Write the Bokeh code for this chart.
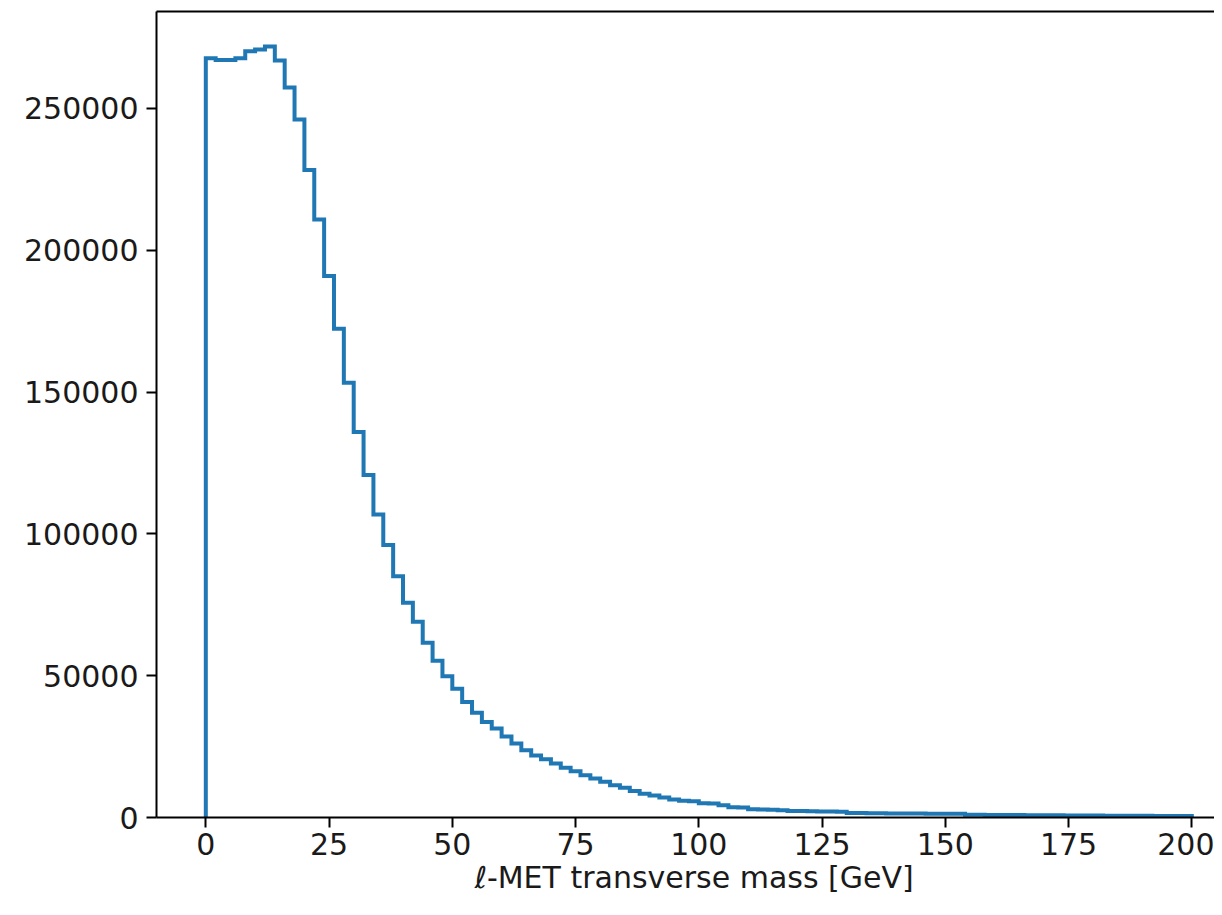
from bokeh.plotting import figure
from bokeh.models import (LinearAxis, FixedTicker, BasicTickFormatter, Range1d, Title)
from bokeh.embed import file_html
from bokeh.resources import INLINE

# ---- data ----
bin_lo = 0
bin_width = 2
counts_rise = [267700, 267100, 267100, 267700, 270200, 270800, 271900, 266900,
               257400, 246100, 228300, 210900, 190900, 172300, 153300, 135900,
               120800, 106800, 96100, 85100, 75700, 69000, 61600, 55300,
               49800, 45400, 40700, 36900, 33700, 31400, 28600, 26100, 23700, 21900]
counts_mid = [20500, 19000, 17500, 16300, 14900, 13750, 12600, 11400, 10450, 9300,
              8350, 7750, 7050, 6350, 5880, 5760, 5040, 4930, 4340, 3630,
              3500, 2900, 2800, 2700, 2600]
counts_tail = [2300, 2250, 2200, 2150, 2100, 2050,
               1600, 1550, 1500, 1480, 1450, 1420, 1400, 1380, 1350, 1320, 1300, 1280,
               950, 930, 900, 880, 860, 840, 820, 800, 780, 760, 740, 720, 700, 680,
               660, 640, 620, 600, 580, 560, 540, 520, 500]
x_ticks = [0, 25, 50, 75, 100, 125, 150, 175, 200]
y_ticks = [0, 50000, 100000, 150000, 200000, 250000]
x_label = "\u2113-MET transverse mass [GeV]"

counts = counts_rise + counts_mid + counts_tail
edges = [bin_lo + bin_width * i for i in range(len(counts) + 1)]

# step outline (matplotlib histtype='step')
xs = [edges[0]]
ys = [0]
for i, c in enumerate(counts):
    xs += [edges[i], edges[i + 1]]
    ys += [c, c]
xs.append(edges[-1])
ys.append(0)

FONT = "DejaVu Sans"
FS = "30px"

p = figure(width=1214, height=906, output_backend="svg", toolbar_location=None,
           x_range=Range1d(-10, 204.6), y_range=Range1d(0, 284200),
           min_border_left=156, min_border_right=0, min_border_top=11,
           min_border_bottom=89, x_axis_location=None, y_axis_location=None)
p.outline_line_color = None
p.grid.visible = False
p.background_fill_color = "white"
p.border_fill_color = "white"

p.line(xs, ys, line_color="#1f77b4", line_width=4, line_join="miter")

xa = LinearAxis(ticker=FixedTicker(ticks=x_ticks))
ya = LinearAxis(ticker=FixedTicker(ticks=y_ticks),
                formatter=BasicTickFormatter(use_scientific=False))
for ax in (xa, ya):
    ax.axis_line_width = 2
    ax.axis_line_color = "black"
    ax.major_tick_line_width = 2
    ax.major_tick_line_color = "black"
    ax.major_tick_out = 10
    ax.major_tick_in = 0
    ax.minor_tick_out = 0
    ax.minor_tick_in = 0
    ax.major_label_text_font = FONT
    ax.major_label_text_font_size = FS
    ax.major_label_text_color = "#1a1a1a"
xa.major_label_standoff = 5
ya.major_label_standoff = 8
p.add_layout(xa, "below")
p.add_layout(ya, "left")

# x-axis title: centred on the full (cropped-off) axes width, like the reference
p.add_layout(Title(text=x_label, align="left", offset=318, text_font=FONT,
                   text_font_size=FS, text_font_style="normal",
                   text_color="#1a1a1a", standoff=0), "below")

top = LinearAxis(ticker=FixedTicker(ticks=[]))
top.axis_line_width = 2
top.axis_line_color = "black"
top.major_tick_out = 0
top.major_tick_in = 0
top.minor_tick_out = 0
top.minor_tick_in = 0
top.major_label_standoff = 0
top.major_label_text_font_size = "0px"
p.add_layout(top, "above")

open("out.html", "w").write(file_html(p, INLINE))
